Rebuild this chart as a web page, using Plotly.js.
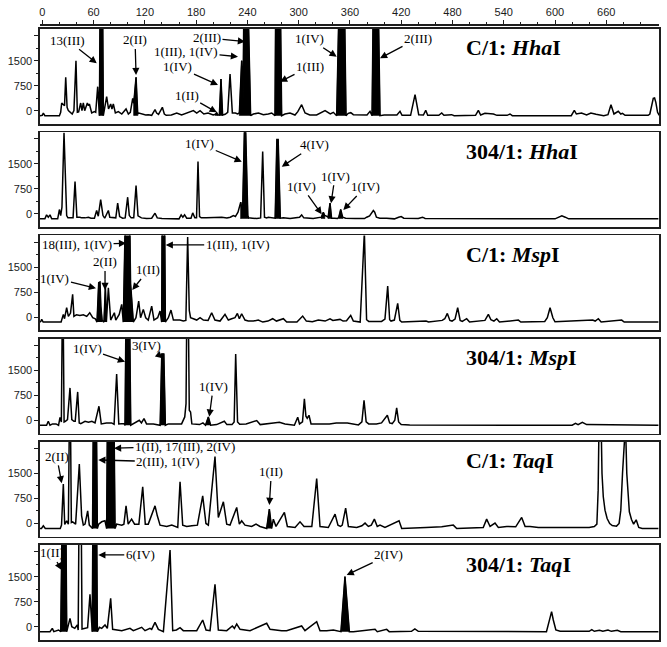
<!DOCTYPE html>
<html><head><meta charset="utf-8">
<script src="https://cdn.plot.ly/plotly-3.0.1.min.js"></script>
<style>html,body{margin:0;padding:0;background:#fff}#chart{width:667px;height:647px}</style>
</head><body><div id="chart"></div>
<script>
// ---- data: fragment size (bp) vs. fluorescence signal ----
const baselineRFU = -150;
const sizeTicks = [0,60,120,180,240,300,360,420,480,540,600,660];
const sizeMinorTicks = [20,40,80,100,140,160,200,220,260,280,320,340,380,400,440,460,500,520,560,580,620,640,680,700];
const signalTicks = [0,750,1500,2250];
const signalTickText = ['0','750','1500',''];
const signalMinorTicks = [375,1125,1875];

const panelTitles = ['C/1: <i>Hha</i>I','304/1: <i>Hha</i>I','C/1: <i>Msp</i>I','304/1: <i>Msp</i>I','C/1: <i>Taq</i>I','304/1: <i>Taq</i>I'];

const C1_HhaI = [[-3,-150],[0,-140],[1.2,-70],[3,-150],[20,-150],[21.5,-50],[22.7,230],[24.5,200],[26,150],[27.4,1000],[29,100],[30.5,0],[33,-50],[35,-100],[37,0],[39.4,1500],[41,-50],[42.5,-40],[44.9,230],[46.4,0],[48,230],[49.6,0],[52.7,230],[54,150],[55.1,200],[57.8,-70],[61,-30],[62.5,-50],[64.8,720],[65.8,0],[66.8,-150],[67.7,3500],[70.5,3500],[71.4,-150],[72.2,-50],[75.3,420],[77.5,50],[80,200],[81.5,50],[83.1,200],[85.5,-70],[89,-30],[93,-100],[98,50],[100.7,-100],[103,-50],[105.8,370],[107,220],[109.7,1000],[111.7,-100],[113,-70],[117,-100],[121,-130],[124,-120],[128,-140],[131.9,30],[133.8,-70],[136,-110],[140.5,100],[142.8,-100],[145,-140],[151,-130],[157.3,-70],[163,-130],[169,-70],[176.8,0],[180.7,-70],[184.6,0],[189,-100],[194,-70],[200,-130],[202.6,-110],[204,-60],[205.5,-130],[207.2,-130],[209.1,950],[211,-130],[214,-110],[217,-50],[219.7,1100],[222.4,-70],[226,-70],[228.5,-100],[230.6,-70],[233.3,1500],[234.8,0],[236,3500],[240.5,3500],[243.8,-150],[247,-100],[253,-70],[258.7,-120],[264.5,-100],[268.4,-70],[272.3,-150],[273.2,3500],[278.5,3500],[280.1,-150],[284,-100],[289.9,-70],[295.7,-130],[299,-30],[303.5,180],[307.5,-70],[313,-130],[321,-130],[330.9,0],[334,-60],[337,-100],[340.6,-50],[344.5,-150],[347.5,3500],[353.5,3500],[355.4,-150],[358,-80],[361,-60],[364,-120],[380,-130],[383.5,-20],[385.9,-150],[387.4,3500],[393,3500],[395.2,-150],[400,-130],[415,-130],[418.6,-20],[421,-140],[431,-140],[436.2,480],[440.5,-120],[446,-130],[448.7,10],[451,-140],[464,-140],[467.4,-70],[470,-140],[476,-140],[479,-120],[482,-150],[507,-140],[510.3,10],[513,-130],[518,-80],[523,-90],[528,-100],[532,-140],[544,-140],[547.4,-100],[550,-150],[619,-150],[622.6,10],[625,-100],[631,-70],[637,-130],[642,-70],[648,-110],[653,-130],[657,-150],[662,-120],[665.5,180],[669,-100],[674,-20],[677,-100],[679,-80],[682,-140],[709,-140],[711,-100],[713,150],[715,370],[716.5,380],[718,250],[720,-50],[722,-140]];
const C1_HhaI_filled = [[66.7,71.5],[106.9,111.8],[202.5,205.6],[207.1,211.1],[230.5,243.9],[272.2,280.2],[344.4,355.5],[385.8,395.3]];

const S304_HhaI = [[-3,-150],[3,-150],[5,-30],[7,-100],[9,-30],[11,-150],[18,-150],[20,130],[21.5,-50],[23,200],[25.4,2430],[27.5,100],[28.5,-50],[30,-120],[36,-120],[38.3,970],[40.5,-100],[44,-100],[46,-120],[50,-120],[54,-100],[57,-130],[61,-130],[63.6,100],[65.5,-70],[68.3,430],[71,-50],[73,-130],[77.3,100],[79,-100],[83,-120],[86,-120],[88.2,320],[90.5,-80],[94,-130],[97,-120],[99.9,500],[101.8,-50],[104,-120],[107,-120],[109.7,850],[112,-60],[116,-120],[122,-140],[128,-130],[131.9,20],[134.5,-120],[140,-140],[160,-150],[162.5,-30],[164.5,-100],[166.5,-30],[169,-130],[174,-130],[176,30],[178.5,-120],[180.5,-120],[182.2,1570],[184,-80],[186,-120],[192,-120],[198,-110],[204,-120],[210,-100],[216,-120],[220,-100],[223.6,-50],[226,-80],[229,50],[232.2,350],[233.5,150],[234.5,200],[236.5,2470],[238,2470],[240.5,-50],[241.5,-120],[246,-130],[251,-140],[255.5,-120],[257.9,1870],[260,-100],[262.5,-120],[264.5,-100],[268,-120],[272.5,-130],[274.5,2230],[276,2230],[278.5,-130],[282,-120],[290,-140],[301,-100],[303.5,-30],[306,-120],[317,-140],[322,-130],[326.5,-100],[328.9,50],[330.5,-50],[332,-60],[334.5,-100],[336.7,320],[338.5,-130],[342,-130],[345.5,-140],[347,-100],[349.2,130],[351.5,-100],[355,-130],[366,-140],[377,-140],[379.6,-100],[383,-60],[387.4,100],[389,50],[391,-100],[395,-130],[403,-130],[412,-150],[417,-100],[420,-80],[423,-130],[440,-140],[445,-100],[448,-140],[600,-150],[604,-100],[608,-60],[612,-100],[616,-150],[721,-150]];
const S304_HhaI_filled = [[231.9,241.6],[272.4,278.6],[326.4,330.6],[334.4,338.6],[346.9,351.6]];

const C1_MspI = [[-3,-150],[-1.5,-120],[-0.7,-70],[1,-150],[22,-150],[24.6,80],[26,-50],[28.5,280],[30.5,20],[33,120],[35.5,680],[37,20],[40,70],[44,50],[48,70],[52,20],[55.5,130],[59,-20],[62,-50],[64,-150],[66,1030],[67.5,1050],[68.5,330],[70,-100],[72.2,-150],[73.8,930],[75,-150],[77.3,880],[80,-90],[84.3,130],[86,-90],[90,80],[92.9,380],[94.8,-150],[97.5,3500],[102,3500],[103,1000],[103.8,830],[106.5,-150],[109.6,-20],[112.8,480],[115,-20],[118.2,230],[121,-20],[124,-90],[128,330],[130.7,-90],[135,-20],[137.8,180],[139.7,-150],[140.3,3500],[143,3500],[144,-150],[147.5,-20],[150.6,210],[153.4,-90],[161,-90],[165,-120],[168,-100],[170.1,2400],[172,200],[173.5,-20],[176.8,-50],[180.7,-90],[184.6,-20],[188.5,-90],[194,-100],[198.2,130],[202,-90],[208,-120],[213.8,80],[217.7,-90],[221.6,-50],[225.5,-20],[228.3,110],[230.6,-50],[233.3,100],[237.2,-90],[241,-120],[247,-120],[252.8,-90],[258,-150],[264,-120],[269.6,-50],[274,-120],[282.1,-50],[286,-150],[298,-150],[304.7,30],[309,-120],[316,-140],[323,-90],[331,-120],[336.7,-50],[340,-100],[343,-90],[348.4,-70],[352,-120],[356,-110],[360.9,50],[364,-120],[372,-150],[376.9,2550],[379.5,-80],[382,-130],[397,-130],[401,-60],[404.2,930],[406.5,-80],[408.1,-120],[412,-90],[415.9,410],[418.4,-100],[420.6,-150],[449.1,-120],[452,-150],[468,-100],[471,-50],[474,110],[477,-100],[479.5,-120],[483,-60],[486.1,280],[489,-100],[491.5,-130],[496.6,-50],[500,-150],[518,-100],[522,80],[525,-80],[528.5,-120],[531.8,-50],[535,-150],[557.1,-90],[560,-150],[588,-130],[591,-20],[594.2,280],[597.5,-20],[600,-140],[644.1,-90],[647,-120],[650.7,-50],[654,-150],[678,-90],[681,-150],[721,-150]];
const C1_MspI_filled = [[63.9,70.1],[72.1,75.1],[94.7,106.6],[139.6,144.1]];

const S304_MspI = [[-3,-150],[5,-150],[7,-30],[9,-150],[12,-110],[16,-110],[19,-150],[20.7,90],[22.3,-50],[23.3,3000],[24.5,3000],[25.5,-50],[27,-30],[29.5,20],[32.4,970],[34.5,20],[37,-30],[38.5,-30],[41.4,850],[43.2,-80],[45,-100],[50,-30],[54,-60],[58,-30],[61.7,-80],[66.3,420],[69,-110],[75,-80],[81,-80],[84,-120],[87,1390],[89.5,-110],[95.7,-100],[96.8,-150],[98,3500],[102,3500],[103.5,-150],[106,-110],[113.5,0],[116,-80],[119,50],[122,-110],[130,-110],[137.9,-150],[139.8,1990],[142.2,1990],[144,-150],[147.5,-110],[163,-110],[166.7,100],[168.2,500],[169,3000],[171,3000],[172,300],[173.5,250],[175,-110],[184,-130],[188,-80],[191,-150],[194.3,100],[197,-150],[204,-130],[213,-30],[216,-130],[222,-130],[224.5,-50],[226.3,1990],[228.5,-50],[231,-120],[238.5,-110],[250.9,-10],[255,-130],[264.6,-110],[270.5,-80],[277.5,-60],[284,-110],[295,-150],[298.9,90],[301,-110],[304.5,-50],[306.7,640],[308.5,120],[310,60],[312.1,150],[314.5,-110],[336,-110],[344,-80],[351,-80],[357,-80],[370,-140],[374,-50],[376.5,600],[379,-50],[382,-110],[391,-110],[397,-80],[403.8,150],[406.5,-80],[409.5,-100],[412.5,0],[414.7,370],[417,-50],[420,-130],[430,-140],[620,-150],[624,-90],[627,-130],[632,-60],[637,-130],[721,-150]];
const S304_MspI_filled = [[96.7,103.6],[137.8,144.1],[190.9,197.1]];

const C1_TaqI = [[-3,-150],[-1,-150],[1.2,-70],[3.5,-150],[21,-150],[22.5,-50],[24.6,1180],[26.2,-30],[28.5,80],[30.5,-20],[31.6,3000],[33,3000],[34,30],[35.5,50],[39,-20],[43.3,1780],[46,230],[48,-50],[50,-20],[53.1,380],[55,-50],[57,-100],[58.8,-150],[59.8,3500],[63.2,3500],[64.4,-150],[66,-20],[69.5,50],[73.3,80],[75.3,-150],[76.3,3500],[83.8,3500],[85.1,-150],[87,-20],[93,-50],[95.5,-20],[98,530],[100.5,-20],[104.5,130],[108,-20],[113,-20],[117.5,1100],[120.5,-20],[124,-20],[128,230],[131.9,530],[134.6,230],[137.8,-50],[145.6,-90],[151.5,-50],[158.5,-120],[161.2,1250],[164.3,-50],[169,-90],[175,-70],[181.5,-50],[187.7,830],[191.5,0],[194.3,-50],[202.1,2010],[206,180],[211.9,650],[215.8,-20],[219.7,-50],[227.5,480],[230.6,-20],[233.3,80],[237.2,-50],[245,-90],[250.1,-20],[254.8,-90],[262.6,-150],[265.7,430],[268.4,-150],[270.4,130],[273.5,-90],[283.3,330],[286.8,-90],[295.8,-120],[301.6,50],[306.3,-90],[315.4,-90],[321.1,1350],[325,-90],[334.7,-120],[342.6,280],[346,-50],[349,-90],[351,-50],[355,460],[358.2,-90],[367.9,-120],[374,-70],[377.7,10],[381.6,-90],[385,-50],[388.6,130],[392,-90],[395.2,-50],[401,-120],[417.5,80],[420.6,-150],[449,-120],[467.4,-100],[481,-50],[485,-150],[516,-120],[520,130],[524,-90],[529.8,10],[533.7,-120],[543.5,-90],[554,-100],[561,180],[565,-90],[570.8,-90],[580.5,-120],[640,-120],[646,-90],[649,-20],[650.5,1000],[651.5,3000],[654,3000],[655,1500],[656.5,800],[658.5,400],[661,150],[664,0],[667,-60],[672,-80],[675,0],[677,400],[679,1500],[680,3000],[682.5,3000],[684,1500],[685.5,700],[687,350],[689.5,120],[692,-20],[695,110],[698,-120],[702,-150],[721,-150]];
const C1_TaqI_filled = [[58.7,64.5],[75.2,85.2],[262.5,268.5]];

const S304_TaqI = [[-3,-150],[9,-150],[11.7,-50],[13.5,-150],[19,-100],[21.6,-150],[23.3,3500],[27.5,3500],[28.6,-150],[30,0],[32.4,250],[34.5,0],[38,-50],[41,50],[42,-100],[43,3500],[45.5,3500],[46.5,-70],[50.6,-50],[53,-30],[55.8,970],[57.5,250],[58.4,-150],[59.3,3500],[63.5,3500],[64.4,-150],[66.8,-20],[69.5,-50],[73.4,50],[76.1,-50],[80,850],[82.3,-80],[87,-100],[93,-120],[102.6,-50],[106.5,-120],[116.3,-20],[120.2,-120],[126,-50],[128,-80],[131.9,130],[135.8,-80],[141.7,-150],[149.5,2300],[152.6,-120],[157,-100],[161.2,-30],[165,-120],[180.7,-120],[187.7,200],[191.6,-100],[196.3,-120],[202.1,1270],[206,-100],[215.8,-120],[219.7,-30],[222.4,20],[224.8,-50],[227.5,80],[231.4,-80],[243.1,-120],[262.6,100],[266.5,-80],[280.1,-120],[285.9,-120],[303.5,20],[307.4,-120],[321.1,150],[325,-120],[332.8,-120],[340.6,-100],[349.5,-150],[354.2,1500],[359.3,-150],[364,-150],[389.4,-80],[392,-150],[403,-80],[406,-150],[432,-140],[436,-70],[440,-140],[590,-150],[594,250],[596,450],[598,200],[601,-100],[606,-140],[640,-140],[643,-90],[646,-140],[652,-110],[656,-140],[662,-100],[666,-140],[673,-110],[677,-150],[721,-150]];
const S304_TaqI_filled = [[21.5,28.7],[58.3,64.5],[349.4,359.4]];

// fragment labels: [text, size (bp), signal, text offset x (px), text offset y (px)]
const fragmentLabels = [
  [["13(III)",63.7,1422,-29,-23],["2(II)",109.7,1071,-1,-35],["2(III)",237.2,2070,-38,-4],["1(III), 1(IV)",229,1620,-52,-5],["1(IV)",205.6,771,-40,-18],["1(II)",204.1,-48,-30,-17],["1(III)",278.2,870,30,-15],["1(IV)",344.5,1620,-27,-18],["2(III)",395.2,1572,38,-20]],
  [["1(IV)",233.4,1566,-42,-18],["4(IV)",280.2,1416,33,-22],["1(IV)",327,-12,-20,-28],["1(IV)",337.9,318,4,-27],["1(IV)",352.3,117,22,-23]],
  [["18(III), 1(IV)",98,2214,-49,1],["1(III), 1(IV)",144.4,2163,72,0],["2(II)",73.4,813,0,-28],["1(IV)",62.8,864,-41,-10],["1(II)",105.3,813,16,-20]],
  [["1(IV)",96.8,1758,-38,-13],["3(IV)",140.9,1860,-16,-13],["1(IV)",195.4,108,4,-30]],
  [["2(II)",22.7,1206,-5,-27],["1(II), 17(III), 2(IV)",83.9,2256,71,-2],["2(III), 1(IV)",65.5,1905,70,2],["1(II)",265.7,555,2,-33]],
  [["1(II)",22.7,1701,-10,-17],["6(IV)",65.5,2151,42,0],["2(IV)",356.2,1551,42,-20]]
];

// ---- drawing ----
const panels = [
  {trace:C1_HhaI, fills:C1_HhaI_filled},
  {trace:S304_HhaI, fills:S304_HhaI_filled},
  {trace:C1_MspI, fills:C1_MspI_filled},
  {trace:S304_MspI, fills:S304_MspI_filled},
  {trace:C1_TaqI, fills:C1_TaqI_filled},
  {trace:S304_TaqI, fills:S304_TaqI_filled}
];
const W=667, H=647, mt=24, mb=7, ml=40, mr=8;
const plotH = H-mt-mb, panelH = 95, firstTop = 5;
const gap = (plotH-firstTop-6*panelH)/5;
const xr = [-2.7, 721.7], yr = [-400, 2450];
const tickFont = {family:'Liberation Sans, Arial, sans-serif', size:11, color:'#1a1a1a'};
const serif = 'Liberation Serif, Times New Roman, serif';
const frame = '#1e1e1e';

const data = [], annotations = [];
const layout = {
  width:W, height:H, margin:{l:ml, r:mr, t:mt, b:mb},
  paper_bgcolor:'#fff', plot_bgcolor:'#fff', showlegend:false,
  annotations
};
panels.forEach((p,i)=>{
  const n = i===0 ? '' : String(i+1);
  const xa = 'x'+n, ya = 'y'+n;
  const top = firstTop + i*(panelH+gap);
  const dom = [1-(top+panelH)/plotH, 1-top/plotH];
  const fx=[], fy=[];
  p.fills.forEach(([a,b])=>{
    const pts = p.trace.filter(d=>d[0]>=a && d[0]<=b);
    fx.push(pts[0][0]); fy.push(baselineRFU);
    pts.forEach(d=>{fx.push(d[0]); fy.push(d[1]);});
    fx.push(pts[pts.length-1][0]); fy.push(baselineRFU);
    fx.push(null); fy.push(null);
  });
  data.push({type:'scatter', mode:'lines', x:fx, y:fy, xaxis:xa, yaxis:ya, fill:'toself',
    fillcolor:'#000', line:{color:'#000', width:0.8}, hoverinfo:'skip', connectgaps:false});
  data.push({type:'scatter', mode:'lines', x:p.trace.map(d=>d[0]), y:p.trace.map(d=>d[1]),
    xaxis:xa, yaxis:ya, line:{color:'#000', width:1.5}, hoverinfo:'skip'});
  layout['xaxis'+n] = {domain:[0,1], range:xr, anchor:ya, showline:true, mirror:true,
    linecolor:frame, linewidth:1.6, ticks:'', showticklabels:false, showgrid:false, zeroline:false, fixedrange:true};
  layout['yaxis'+n] = {domain:dom, range:yr, anchor:xa, showline:true, mirror:true,
    linecolor:frame, linewidth:1.6, tickmode:'array', tickvals:signalTicks, ticktext:signalTickText,
    ticks:'outside', ticklen:4, tickwidth:1, tickcolor:frame, tickfont:tickFont,
    minor:{tickmode:'array', tickvals:signalMinorTicks, ticks:'outside', ticklen:2, tickcolor:frame},
    showgrid:false, zeroline:false, fixedrange:true};
  annotations.push({xref:xa, yref:ya+' domain', x:494, y:0.8, xanchor:'left', yanchor:'middle',
    showarrow:false, text:'<b>'+panelTitles[i]+'</b>', font:{family:serif, size:22, color:'#000'}});
  fragmentLabels[i].forEach(([t,bx,by,ax,ay])=>{
    annotations.push({xref:xa, yref:ya, x:bx, y:by, ax:ax, ay:ay, text:t, showarrow:true,
      arrowhead:2, arrowsize:1.1, arrowwidth:1.3, arrowcolor:'#000', standoff:0,
      font:{family:serif, size:13, color:'#000'}});
  });
});
// size scale along the top
data.push({type:'scatter', mode:'lines', x:[], y:[], xaxis:'x7', yaxis:'y', hoverinfo:'skip'});
layout.xaxis7 = {overlaying:'x', anchor:'free', position:1, side:'top', range:xr,
  tickmode:'array', tickvals:sizeTicks, ticks:'outside', ticklen:4, tickwidth:1, tickcolor:frame,
  minor:{tickmode:'array', tickvals:sizeMinorTicks, ticks:'outside', ticklen:2, tickcolor:frame},
  showline:true, linecolor:frame, linewidth:1.5, tickfont:tickFont, showgrid:false, zeroline:false, fixedrange:true};

Plotly.newPlot('chart', data, layout, {staticPlot:true, displayModeBar:false});
</script>
</body></html>
